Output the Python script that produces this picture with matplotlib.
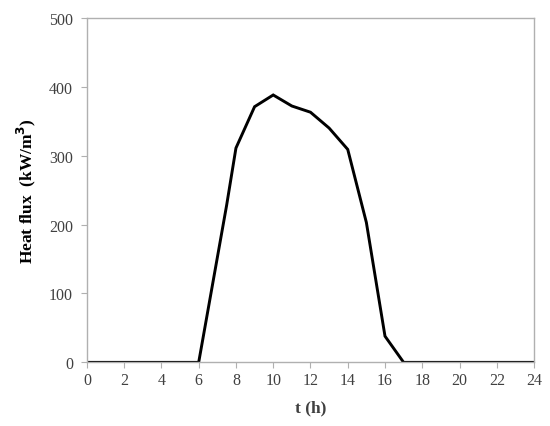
import matplotlib.pyplot as plt
import numpy as np

# hourly heat flux profile
t = [0, 1, 2, 3, 4, 5, 6, 7.5, 8, 9, 10, 11, 12, 13, 14, 15, 16, 17,
     18, 19, 20, 21, 22, 23, 24]
q = [0, 0, 0, 0, 0, 0, 0, 228, 311, 371, 388, 372, 363, 340, 309, 203, 38, 0,
     0, 0, 0, 0, 0, 0, 0]
x_ticks = np.arange(0, 25, 2)
y_ticks = [0, 100, 200, 300, 400, 500]

plt.rcParams['font.family'] = ['Liberation Serif', 'DejaVu Serif']

fig = plt.figure(figsize=(5.5, 4.27), dpi=100)
ax = fig.add_axes([0.158, 0.149, 0.813, 0.807])
ax.plot(t, q, color='black', linewidth=2.1, solid_joinstyle='miter')

ax.set_xlim(0, 24)
ax.set_ylim(0, 500)
ax.set_xticks(x_ticks)
ax.set_yticks(y_ticks)

grey = '#b0b0b0'
for s in ax.spines.values():
    s.set_color(grey)
    s.set_linewidth(1.0)
ax.tick_params(axis='both', color=grey, labelcolor='#404040', labelsize=11.5,
               direction='out', length=4)
ax.tick_params(axis='x', pad=3)
ax.tick_params(axis='y', pad=6)

ax.set_xlabel('t (h)', fontsize=12.5, fontweight='bold', color='#404040', labelpad=8)
ax.set_ylabel('Heat flux  (kW/m$^\\mathbf{3}$)', fontsize=12.5, fontweight='bold',
              color='black', labelpad=8)

fig.savefig('out.png', dpi=100)
